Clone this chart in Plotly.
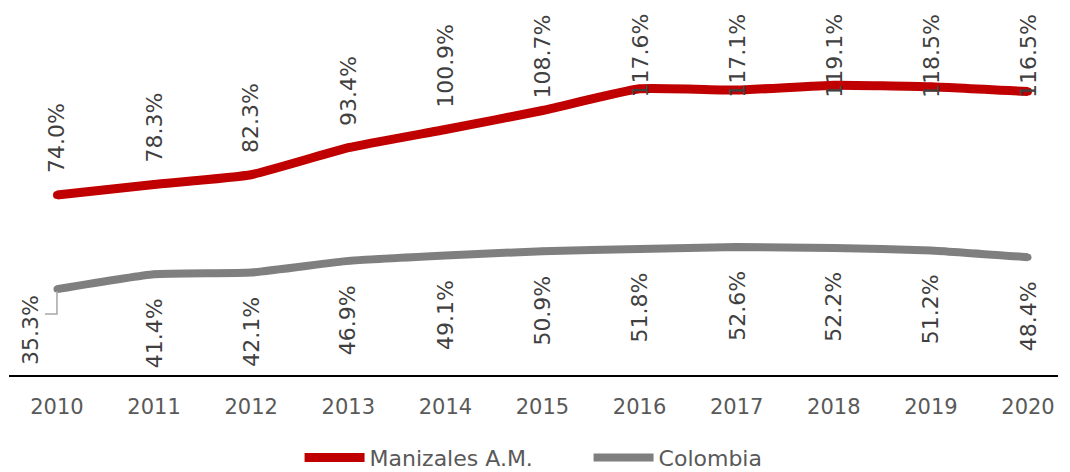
import plotly.graph_objects as go

years = [2010, 2011, 2012, 2013, 2014, 2015, 2016, 2017, 2018, 2019, 2020]
manizales = [74.0, 78.3, 82.3, 93.4, 100.9, 108.7, 117.6, 117.1, 119.1, 118.5, 116.5]
colombia = [35.3, 41.4, 42.1, 46.9, 49.1, 50.9, 51.8, 52.6, 52.2, 51.2, 48.4]

RED = "#C00000"
GRAY = "#7F7F7F"
FONT = "DejaVu Sans"

fig = go.Figure()
fig.add_trace(go.Scatter(
    x=years, y=manizales, name="Manizales A.M.", mode="lines+markers",
    line=dict(color=RED, width=9, shape="spline", smoothing=0.4),
    marker=dict(color=RED, size=8), hoverinfo="skip"))
fig.add_trace(go.Scatter(
    x=years, y=colombia, name="Colombia", mode="lines+markers",
    line=dict(color=GRAY, width=8, shape="spline", smoothing=0.4),
    marker=dict(color=GRAY, size=7), hoverinfo="skip"))

lbl_font = dict(family=FONT, size=22, color="#404040")

# red labels above the line, pushed down when they would leave the plot
for x, v in zip(years, manizales):
    if v > 105:
        fig.add_annotation(x=x, y=1, yref="paper", text=f"{v:.1f}%", textangle=-90,
                           showarrow=False, yanchor="top", yshift=-2, font=lbl_font)
    else:
        fig.add_annotation(x=x, y=v, text=f"{v:.1f}%", textangle=-90,
                           showarrow=False, yanchor="bottom", yshift=20, font=lbl_font)

# gray labels below the line; first one moved left with a leader line
for i, (x, v) in enumerate(zip(years, colombia)):
    if i == 0:
        fig.add_annotation(x=x, y=v, text=f"{v:.1f}%", textangle=-90,
                           showarrow=False, yanchor="top", yshift=-4, xshift=-27, font=lbl_font)
        fig.add_shape(type="path", xref="x", yref="y", xsizemode="pixel", ysizemode="pixel",
                      xanchor=x, yanchor=v, path="M 0 -2 L 0 -25 L -12 -25",
                      line=dict(color="#A6A6A6", width=1.5))
    else:
        fig.add_annotation(x=x, y=v, text=f"{v:.1f}%", textangle=-90,
                           showarrow=False, yanchor="top", yshift=-22, font=lbl_font)

fig.update_layout(
    width=1062, height=464,
    margin=dict(l=1, r=12, t=2, b=97),
    plot_bgcolor="white", paper_bgcolor="white",
    font=dict(family=FONT, color="#595959"),
    xaxis=dict(range=[2009.506, 2020.309], tickvals=years, ticktext=[str(y) for y in years],
               showgrid=False, zeroline=False, showline=True, linecolor="black", linewidth=1.5,
               ticks="", ticklabelstandoff=12, tickfont=dict(size=21, color="#595959")),
    yaxis=dict(range=[0, 150], visible=False, showgrid=False, zeroline=False),
    showlegend=True,
    legend=dict(orientation="h", x=0.277, xanchor="left", yref="container", y=0.031,
                yanchor="middle", entrywidth=214,
                font=dict(size=22, color="#595959"), itemwidth=60, itemclick=False),
)

fig.write_html("out.html")
